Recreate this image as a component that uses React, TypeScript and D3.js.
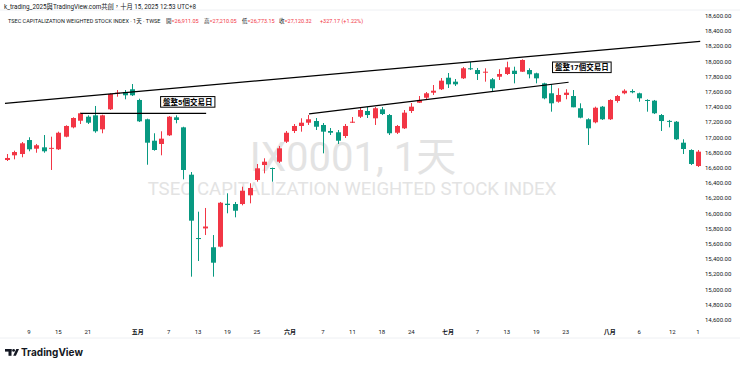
import * as d3 from "d3";

// OHLC per daily bar (index 0 = first bar on the left)
const opens = [
  16705, 16767, 16784, 16968, 16854, 16872, 16855, 16846, 17012, 17135,
  17222, 17275, 17293, 17109, 17372, 17583, 17600, 17636, 17495, 17241,
  16959, 16916, 17030, 17267, 17135, 16512, 15679, 15805, 15557, 15565,
  16130, 16126, 16126, 16241, 16442, 16639, 16600, 16683, 16946, 17087,
  17153, 17196, 17218, 17166, 17087, 17070, 17021, 17196, 17275, 17350,
  17254, 17372, 17297, 17064, 17122, 17350, 17459, 17525, 17591, 17636,
  17788, 17736, 17780, 17912, 17889, 17859, 17767, 17801, 17837, 17880,
  17867, 17889, 17846, 17714, 17583, 17472, 17561, 17547, 17386, 17241,
  17201, 17407, 17241, 17482, 17583, 17613, 17583, 17495, 17486, 17297,
  17220, 17209, 16933, 16837, 16626,
];
const highs = [
  16784, 16828, 16942, 17004, 16916, 17034, 17012, 17078, 17162, 17267,
  17328, 17293, 17416, 17301, 17583, 17626, 17626, 17705, 17512, 17249,
  17057, 17083, 17284, 17293, 17143, 16547, 16025, 16074, 15718, 16153,
  16267, 16153, 16354, 16399, 16653, 16728, 16605, 16890, 17087, 17179,
  17254, 17297, 17258, 17192, 17126, 17100, 17179, 17271, 17389, 17403,
  17403, 17403, 17310, 17166, 17363, 17455, 17547, 17600, 17692, 17784,
  17850, 17771, 17929, 17995, 17916, 17912, 17784, 17899, 17999, 17933,
  18030, 17912, 17854, 17722, 17705, 17649, 17636, 17626, 17451, 17254,
  17407, 17416, 17504, 17561, 17636, 17636, 17591, 17504, 17495, 17310,
  17232, 17218, 16978, 16846, 16837,
];
const lows = [
  16692, 16714, 16741, 16820, 16801, 16801, 16574, 16837, 17004, 17122,
  17179, 17179, 17064, 17057, 17363, 17538, 17504, 17547, 17205, 16643,
  16828, 16767, 17021, 17188, 16451, 15170, 15376, 15718, 15170, 15557,
  16004, 15951, 16109, 16135, 16420, 16530, 16420, 16666, 16929, 17060,
  17078, 17166, 17100, 16793, 17034, 16916, 16995, 17192, 17258, 17258,
  17166, 17297, 17034, 17047, 17113, 17324, 17455, 17508, 17561, 17626,
  17653, 17679, 17771, 17889, 17758, 17736, 17604, 17758, 17824, 17714,
  17863, 17780, 17714, 17504, 17341, 17459, 17504, 17399, 17254, 16903,
  17188, 17232, 17232, 17459, 17570, 17583, 17472, 17341, 17310, 17087,
  17135, 16968, 16784, 16639, 16613,
];
const closes = [
  16732, 16810, 16925, 16846, 16899, 16820, 16865, 17064, 17153, 17258,
  17320, 17196, 17083, 17293, 17574, 17591, 17557, 17557, 17214, 16933,
  16837, 16986, 17275, 17232, 16574, 15907, 15665, 15830, 15354, 16143,
  16113, 16038, 16301, 16337, 16596, 16683, 16590, 16859, 17064, 17153,
  17196, 17241, 17143, 17078, 17064, 16959, 17153, 17209, 17363, 17297,
  17386, 17310, 17057, 17153, 17328, 17407, 17495, 17583, 17617, 17749,
  17701, 17701, 17912, 17899, 17837, 17867, 17649, 17837, 17925, 17837,
  18021, 17833, 17780, 17517, 17451, 17561, 17591, 17399, 17262, 17122,
  17393, 17241, 17495, 17547, 17617, 17596, 17517, 17482, 17320, 17218,
  17210, 16978, 16850, 16653, 16815,
];

// time axis labels, placed at bar index
const xTickIdx = [3, 7, 11, 17.8, 22, 26, 30, 34, 38.5, 43, 47, 51, 55, 60, 64, 68, 72, 76, 82, 86, 90.5, 94];
const xTickLabels = ["9", "15", "21", "五月", "7", "13", "19", "25", "六月", "7", "11", "18", "24", "七月", "7", "13", "19", "23", "八月", "6", "12", "1"];

// drawn lines, as [bar index, price]
const upperLine = [[-0.26, 17451], [94.3, 18267]];
const flatLine = [[10, 17320], [27.1, 17320]];
const channelLine = [[41.1, 17311], [76.4, 17728]];

// notes: text, bar index, price of the box centre
const notes = [
  { text: "盤整5個交易日", i: 24.6, p: 17470 },
  { text: "盤整17個交易日", i: 78.2, p: 17925 },
];

const width = 740;
const height = 367;
const RED = "#F23645";
const GREEN = "#089981";
const TEXT = "#131722";
const FONT = "Roboto, 'Noto Sans CJK TC', sans-serif";

const x = d3.scaleLinear().domain([0, 94]).range([6.9, 698]);
const y = d3.scaleLinear().domain([14600, 18600]).range([320, 16]);
const fmt = d3.format(",.2f");
const lineGen = d3.line<number[]>().x((d) => x(d[0])).y((d) => y(d[1]));

function noteWidth(t: string) {
  let w = 0;
  for (const ch of t) w += /[0-9]/.test(ch) ? 4.3 : 7.5;
  return w + 5;
}

export default function App() {
  return (
    <svg
      width={width}
      height={height}
      style={{ position: "absolute", left: 0, top: 0, background: "#fff" }}
      fontFamily={FONT}
    >
      <rect width={width} height={height} fill="#fff" />
      <line x1={0} x2={width} y1={10} y2={10} stroke="#eef0f3" />
      <line x1={0} x2={width} y1={338} y2={338} stroke="#eef0f3" />

      {/* header */}
      <text x={4} y={8.5} fontSize={6.3} fill={TEXT}>
        k_trading_2025與TradingView.com共創，十月 15, 2025 12:53 UTC+8
      </text>
      <g fontSize={5.5} fill={TEXT}>
        <text x={8} y={22.5}>TSEC CAPITALIZATION WEIGHTED STOCK INDEX · 1天 · TWSE</text>
        {[
          ["開", "=26,911.05", 166],
          ["高", "=27,210.05", 204],
          ["低", "=26,773.15", 242],
          ["收", "=27,120.32", 279],
        ].map(([k, v, px]) => (
          <text key={k as string} x={px as number} y={22.5}>
            {k}
            <tspan fill={RED}>{v}</tspan>
          </text>
        ))}
        <text x={320} y={22.5} fill={RED}>+327.17 (+1.22%)</text>
      </g>

      {/* watermark */}
      <text x={353} y={171} fontSize={40} textAnchor="middle" fill="#e3e3e3">
        IX0001, 1天
      </text>
      <text x={352} y={195} fontSize={18.6} textAnchor="middle" fill="#e3e3e3">
        TSEC CAPITALIZATION WEIGHTED STOCK INDEX
      </text>

      {/* candles */}
      {opens.map((o, i) => {
        const c = closes[i];
        const col = c >= o ? RED : GREEN;
        const cx = Math.round(x(i)) + 0.5;
        const top = y(Math.max(o, c));
        const bot = y(Math.min(o, c));
        return (
          <g key={i}>
            <line x1={cx} x2={cx} y1={y(highs[i])} y2={y(lows[i])} stroke={col} />
            <rect x={cx - 2.5} y={top} width={5} height={Math.max(1, bot - top)} fill={col} />
          </g>
        );
      })}

      {/* drawings */}
      {[upperLine, flatLine, channelLine].map((l, k) => (
        <path key={k} d={lineGen(l) || ""} stroke="#000" strokeWidth={1.2} fill="none" />
      ))}
      {notes.map((n) => {
        const w = noteWidth(n.text);
        const cx = x(n.i);
        const cy = y(n.p);
        return (
          <g key={n.text}>
            <rect x={cx - w / 2} y={cy - 5.3} width={w} height={10.6} fill="#fff" stroke="#000" strokeWidth={1} />
            <text x={cx} y={cy + 2.7} fontSize={7.5} fontWeight="bold" textAnchor="middle" fill="#000">
              {n.text}
            </text>
          </g>
        );
      })}

      {/* price axis */}
      <g fontSize={6} fill={TEXT}>
        {y.ticks(20).map((t) => (
          <text key={t} x={705} y={y(t) + 2}>
            {fmt(t)}
          </text>
        ))}
      </g>

      {/* time axis */}
      <g fontSize={6} fill={TEXT} textAnchor="middle">
        {xTickIdx.map((i, k) => (
          <text key={k} x={x(i)} y={334} fontWeight={/月/.test(xTickLabels[k]) ? "bold" : "normal"}>
            {xTickLabels[k]}
          </text>
        ))}
      </g>

      {/* logo */}
      <g fill={TEXT}>
        <rect x={5} y={349} width={6.5} height={2.6} />
        <rect x={8.5} y={349} width={3} height={6.8} />
        <circle cx={13.6} cy={350.4} r={1.4} />
        <polygon points="13.2,355.8 16.3,349 19,349 15.9,355.8" />
        <text x={21} y={356} fontSize={10} fontWeight="bold" fontFamily="Inter, Roboto, sans-serif">
          TradingView
        </text>
      </g>
    </svg>
  );
}
